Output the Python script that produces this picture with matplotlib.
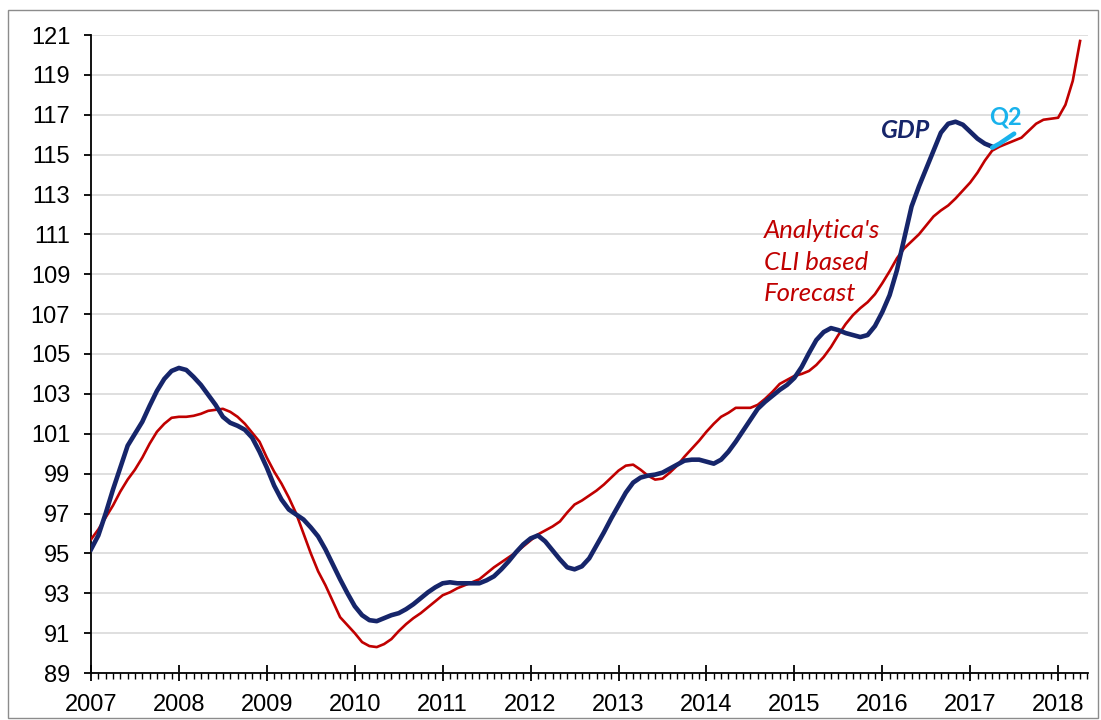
import numpy as np
import matplotlib
matplotlib.use("Agg")
import matplotlib.pyplot as plt
from matplotlib.patches import Rectangle
from matplotlib.ticker import MultipleLocator

# monthly values, Jan 2007 onwards
cli = [95.7, 96.2, 96.8, 97.4, 98.1, 98.7, 99.2, 99.8, 100.5, 101.1, 101.5, 101.8,
       101.85, 101.85, 101.9, 102.0, 102.15, 102.2, 102.25, 102.1, 101.85, 101.5, 101.05, 100.6,
       99.8, 99.1, 98.5, 97.8, 97.0, 96.0, 95.0, 94.1, 93.4, 92.6, 91.8, 91.4,
       91.0, 90.55, 90.35, 90.3, 90.45, 90.7, 91.1, 91.45, 91.75, 92.0, 92.3, 92.6,
       92.9, 93.05, 93.25, 93.4, 93.55, 93.7, 94.0, 94.3, 94.55, 94.8, 95.05, 95.35,
       95.65, 95.95, 96.15, 96.35, 96.6, 97.05, 97.45, 97.65, 97.9, 98.15, 98.45, 98.8,
       99.15, 99.4, 99.45, 99.2, 98.9, 98.7, 98.75, 99.05, 99.4, 99.85, 100.25, 100.65,
       101.1, 101.5, 101.85, 102.05, 102.3, 102.3, 102.3, 102.45, 102.75, 103.1, 103.5, 103.7,
       103.9, 104.0, 104.15, 104.45, 104.85, 105.35, 105.95, 106.5, 106.95, 107.3, 107.6, 108.0,
       108.55, 109.15, 109.8, 110.3, 110.65, 111.0, 111.45, 111.9, 112.2, 112.45, 112.8, 113.2,
       113.6, 114.1, 114.7, 115.2, 115.4, 115.55, 115.7, 115.85, 116.2, 116.55, 116.75, 116.8,
       116.85, 117.5, 118.7, 120.7]

gdp = [95.2, 95.9, 97.0, 98.2, 99.3, 100.4, 101.0, 101.6, 102.4, 103.15, 103.75, 104.15,
       104.3, 104.2, 103.85, 103.45, 102.95, 102.45, 101.85, 101.55, 101.4, 101.2, 100.8, 100.1,
       99.3, 98.4, 97.7, 97.2, 96.95, 96.7, 96.3, 95.85, 95.2, 94.45, 93.7, 93.0,
       92.35, 91.9, 91.65, 91.6, 91.75, 91.9, 92.0, 92.2, 92.45, 92.75, 93.05, 93.3,
       93.5, 93.55, 93.5, 93.5, 93.5, 93.5, 93.65, 93.85, 94.2, 94.6, 95.05, 95.45,
       95.75, 95.9, 95.6, 95.15, 94.7, 94.3, 94.2, 94.35, 94.75, 95.4, 96.05, 96.75,
       97.4, 98.05, 98.55, 98.8, 98.9, 98.95, 99.05, 99.25, 99.45, 99.65, 99.7, 99.7,
       99.6, 99.5, 99.7, 100.1, 100.6, 101.15, 101.7, 102.25, 102.6, 102.9, 103.2, 103.45,
       103.8, 104.35, 105.05, 105.7, 106.1, 106.3, 106.2, 106.05, 105.95, 105.85, 105.95, 106.4,
       107.1, 107.95, 109.2, 110.8, 112.4, 113.4, 114.3, 115.2, 116.1, 116.55, 116.65, 116.5,
       116.15, 115.8, 115.55, 115.4]

# Q2 estimate, Apr 2017 - Jul 2017
q2 = [115.35, 115.55, 115.8, 116.05]
q2_start = 123

yticks = list(range(89, 122, 2))

t_cli = 2007 + np.arange(len(cli)) / 12
t_gdp = 2007 + np.arange(len(gdp)) / 12
t_q2 = 2007 + (q2_start + np.arange(len(q2))) / 12

navy = "#16256a"
red = "#c00000"
cyan = "#19b2ec"

plt.rcParams["font.family"] = ["Liberation Sans", "DejaVu Sans"]

fig = plt.figure(figsize=(11.01, 7.2), dpi=100)
ax = fig.add_axes([91/1101, 47/720, 997/1101, 638/720])

ax.plot(t_cli, cli, color=red, lw=1.9, zorder=3)
ax.plot(t_gdp, gdp, color=navy, lw=3.3, zorder=4)
ax.plot(t_q2, q2, color=cyan, lw=3.3, zorder=5, solid_capstyle="round")

ax.set_xlim(2007, 2018.34)
ax.set_ylim(89, 121)
ax.set_yticks(yticks)
ax.xaxis.set_major_locator(MultipleLocator(1))
ax.xaxis.set_minor_locator(MultipleLocator(1/12))
ax.xaxis.set_major_formatter(lambda v, p: "%d" % round(v))

ax.grid(axis="y", color="#d9d9d9", lw=1.2, zorder=0)
ax.set_axisbelow(True)
for s in ["top", "right"]:
    ax.spines[s].set_visible(False)
for s in ["left", "bottom"]:
    ax.spines[s].set_linewidth(1.3)

ax.tick_params(axis="y", which="major", direction="out", length=5, width=1.3,
               labelsize=17, pad=10)
ax.tick_params(axis="x", which="major", direction="inout", length=12, width=1.3,
               labelsize=17, pad=9)
ax.tick_params(axis="x", which="minor", direction="out", length=4.5, width=1)

afont = ["Lato", "Open Sans", "DejaVu Sans"]
ax.text(2015.99, 116.2, "GDP", color=navy, fontsize=18, fontweight="bold",
        fontstyle="italic", family=afont, va="center")
ax.text(2017.21, 116.5, "Q2", color=cyan, fontsize=17, fontweight="bold",
        family=afont, va="baseline")
ax.text(2014.65, 111.2, "Analytica's", color=red, fontsize=18.5, fontstyle="italic",
        family=afont, va="center")
ax.text(2014.65, 109.6, "CLI based", color=red, fontsize=18.5, fontstyle="italic",
        family=afont, va="center")
ax.text(2014.65, 108.05, "Forecast", color=red, fontsize=18.5, fontstyle="italic",
        family=afont, va="center")

fig.patches.append(Rectangle((8/1101, 2/720), 1090/1101, 708/720, transform=fig.transFigure,
                             fill=False, edgecolor="#8c8c8c", lw=1))

fig.savefig("out.png", dpi=100)
